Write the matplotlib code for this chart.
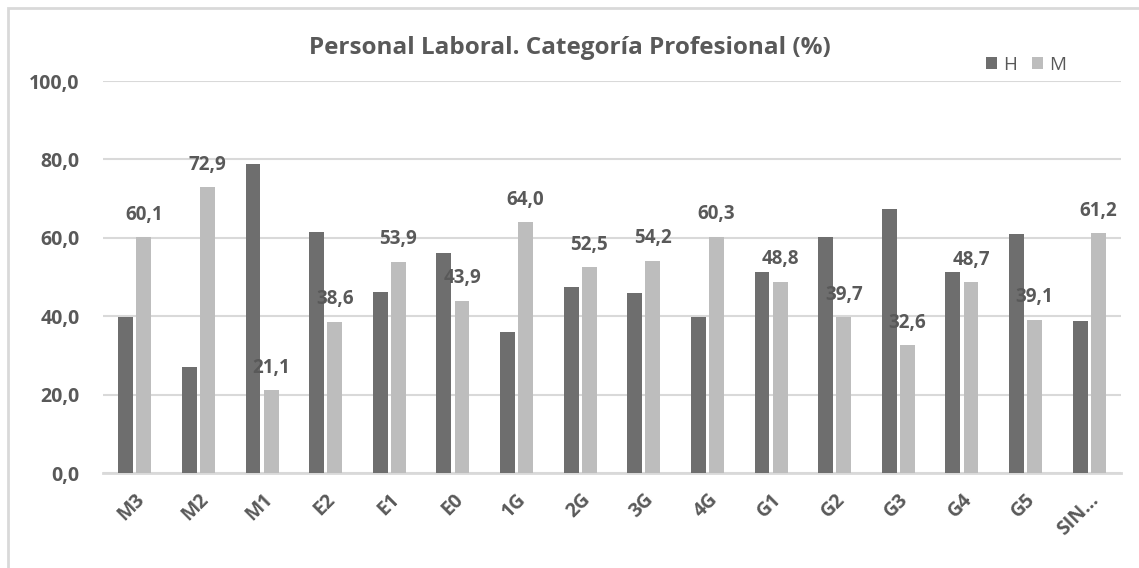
import matplotlib
matplotlib.use("Agg")
import matplotlib.pyplot as plt
import numpy as np
from matplotlib.patches import Rectangle

categories = ["M3", "M2", "M1", "E2", "E1", "E0", "1G", "2G", "3G", "4G",
              "G1", "G2", "G3", "G4", "G5", "SIN…"]
h_values = [39.9, 27.1, 78.9, 61.4, 46.1, 56.1, 36.0, 47.5, 45.8, 39.7,
            51.2, 60.3, 67.4, 51.3, 60.9, 38.8]
m_values = [60.1, 72.9, 21.1, 38.6, 53.9, 43.9, 64.0, 52.5, 54.2, 60.3,
            48.8, 39.7, 32.6, 48.7, 39.1, 61.2]
yticks = [0, 20, 40, 60, 80, 100]
title = "Personal Laboral. Categoría Profesional (%)"

plt.rcParams['font.family'] = ['Open Sans', 'DejaVu Sans']
text_color = "#595959"
h_color = "#6e6e6e"
m_color = "#bdbdbd"
grid_color = "#d9d9d9"

fig = plt.figure(figsize=(11.39, 5.68), dpi=100)
ax = fig.add_axes([103/1139, 1-473/568, (1121-103)/1139, (473-81)/568])

x = np.arange(len(categories))
w = 0.235
gap = 0.025
ax.bar(x - w/2 - gap, h_values, width=w, color=h_color, label="H", zorder=3)
ax.bar(x + w/2 + gap, m_values, width=w, color=m_color, label="M", zorder=3)

for xi, v in zip(x, m_values):
    ax.text(xi + w/2 + gap, v + 3.2, f"{v:.1f}".replace('.', ','),
            ha='center', va='bottom', fontsize=13.5, fontweight='bold', color=text_color)

ax.set_xlim(-0.5, len(categories) - 0.5)
ax.set_ylim(0, 100)
ax.set_yticks(yticks)
ax.set_yticklabels([f"{t:.1f}".replace('.', ',') for t in yticks],
                   fontsize=14, fontweight='bold', color=text_color)
ax.set_xticks(x)
ax.set_xticklabels(categories, rotation=45, ha='right', rotation_mode='anchor',
                   fontsize=14, fontweight='bold', color=text_color)
ax.tick_params(axis='both', length=0)
ax.tick_params(axis='y', pad=17)
ax.tick_params(axis='x', pad=12)
ax.grid(axis='y', color=grid_color, linewidth=1.5, zorder=0)
for s in ['top', 'right', 'left']:
    ax.spines[s].set_visible(False)
ax.spines['bottom'].set_color(grid_color)
ax.spines['bottom'].set_linewidth(2)

fig.text(0.5, 1-48/568, title, ha='center', va='center', fontsize=17.5,
         fontweight='bold', color=text_color)

leg = fig.legend(loc='center', bbox_to_anchor=(1026/1139, 1-65/568), ncol=2,
                 frameon=False, fontsize=13.5, handlelength=0.6, handleheight=0.6,
                 handletextpad=0.3, columnspacing=0.8)
for t in leg.get_texts():
    t.set_color(text_color)

fig.patches.append(Rectangle((8/1139, -0.05), 1.5, 1.05 - 8/568, transform=fig.transFigure,
                             fill=False, edgecolor="#d9d9d9", linewidth=2))

fig.savefig("out.png", dpi=100)
